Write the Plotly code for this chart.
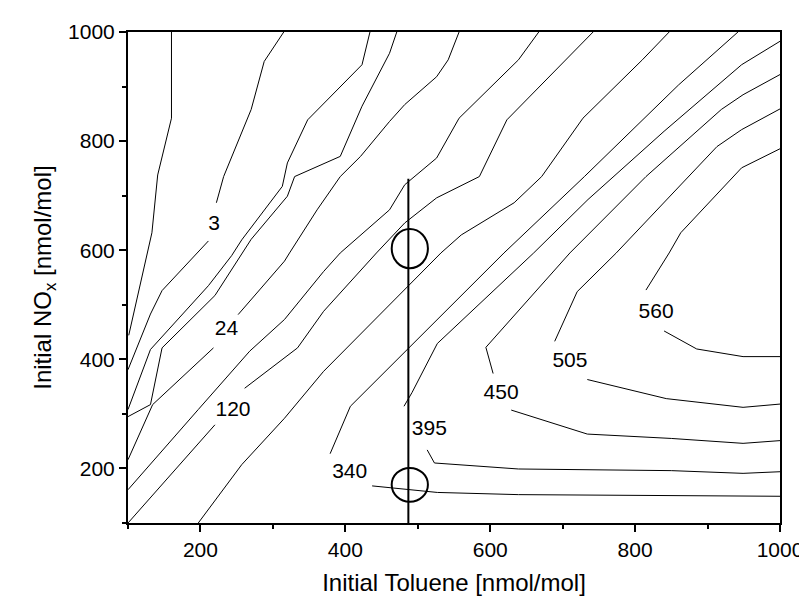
import plotly.graph_objects as go

# contour polylines (toluene x, NOx y), nmol/mol
line_a_x = [160, 160, 141, 133, 101]
line_a_y = [1000, 842, 738, 632, 444]
line_3a_x = [315, 288, 270, 232, 222]
line_3a_y = [1000, 946, 858, 735, 687]
line_3b_x = [211, 147, 131, 100]
line_3b_y = [617, 526, 483, 381]
line_c_x = [434, 423, 348, 320, 313, 257, 243, 211, 131, 100]
line_c_y = [1000, 940, 839, 760, 717, 619, 590, 535, 418, 308]
line_d_x = [471, 461, 423, 393, 330, 320, 270, 220, 147, 131, 100]
line_d_y = [1000, 961, 864, 772, 735, 699, 620, 517, 421, 317, 295]
line_24a_x = [557, 542, 526, 482, 461, 421, 393, 361, 323, 316, 252]
line_24a_y = [1000, 949, 918, 867, 836, 772, 735, 674, 595, 580, 482]
line_24b_x = [218, 134, 100]
line_24b_y = [421, 317, 216]
line_f_x = [667, 639, 557, 526, 482, 461, 393, 370, 316, 268, 197, 100]
line_f_y = [1000, 949, 842, 769, 720, 674, 595, 561, 473, 415, 308, 161]
line_120a_x = [742, 623, 585, 526, 482, 443, 370, 334, 261]
line_120a_y = [1000, 839, 735, 696, 650, 595, 488, 421, 347]
line_120b_x = [220, 100]
line_120b_y = [280, 100]
line_h_x = [847, 810, 728, 671, 633, 560, 532, 370, 316, 257, 197]
line_h_y = [1000, 949, 842, 735, 687, 628, 595, 378, 292, 207, 100]
line_340a_x = [942, 860, 730, 619, 407, 379]
line_340a_y = [1000, 903, 735, 595, 314, 227]
line_340b_x = [437, 492, 527, 639, 1000]
line_340b_y = [168, 161, 156, 152, 149]
line_395a_x = [1000, 947, 840, 735, 660, 527, 492, 481]
line_395a_y = [983, 940, 818, 693, 595, 429, 339, 314]
line_395b_x = [513, 523, 639, 850, 949, 1000]
line_395b_y = [234, 210, 199, 196, 191, 194]
line_450a_x = [1000, 949, 919, 815, 710, 594, 604]
line_450a_y = [922, 885, 858, 735, 595, 422, 374]
line_450b_x = [629, 734, 850, 949, 1000]
line_450b_y = [307, 263, 255, 246, 251]
line_505a_x = [1000, 947, 913, 774, 720, 689]
line_505a_y = [859, 821, 790, 595, 524, 433]
line_505b_x = [734, 843, 949, 1000]
line_505b_y = [363, 328, 312, 318]
line_560a_x = [1000, 947, 863, 847, 815]
line_560a_y = [786, 751, 632, 595, 527]
line_560b_x = [840, 885, 949, 1000]
line_560b_y = [452, 419, 405, 405]

label_text = ["3", "24", "120", "340", "395", "450", "505", "560"]
label_x = [219, 236, 245, 406, 516, 615, 710, 829]
label_y = [647, 454, 305, 192, 271, 337, 396, 485]

# measurement line and the two marked points
marker_x = [487, 487]
marker_y = [100, 731]
circle_x = [489, 489]
circle_y = [603, 170]
circle_rx = [25, 25]
circle_ry = [36, 31]

lines = [
    (line_a_x, line_a_y), (line_3a_x, line_3a_y), (line_3b_x, line_3b_y),
    (line_c_x, line_c_y), (line_d_x, line_d_y),
    (line_24a_x, line_24a_y), (line_24b_x, line_24b_y),
    (line_f_x, line_f_y), (line_120a_x, line_120a_y), (line_120b_x, line_120b_y),
    (line_h_x, line_h_y), (line_340a_x, line_340a_y), (line_340b_x, line_340b_y),
    (line_395a_x, line_395a_y), (line_395b_x, line_395b_y),
    (line_450a_x, line_450a_y), (line_450b_x, line_450b_y),
    (line_505a_x, line_505a_y), (line_505b_x, line_505b_y),
    (line_560a_x, line_560a_y), (line_560b_x, line_560b_y),
]

fig = go.Figure()
for xs, ys in lines:
    fig.add_trace(go.Scatter(x=xs, y=ys, mode='lines',
                             line=dict(color='black', width=1), showlegend=False))

fig.add_trace(go.Scatter(x=marker_x, y=marker_y, mode='lines',
                         line=dict(color='black', width=2), showlegend=False))

fig.add_trace(go.Scatter(x=label_x, y=label_y, mode='text', text=label_text,
                         textfont=dict(size=21, color='black'),
                         showlegend=False))

for cx, cy, rx, ry in zip(circle_x, circle_y, circle_rx, circle_ry):
    fig.add_shape(type='circle', xref='x', yref='y',
                  x0=cx - rx, x1=cx + rx, y0=cy - ry, y1=cy + ry,
                  line=dict(color='black', width=2))

axis_common = dict(range=[100, 1000], tick0=200, dtick=200,
                   ticks='outside', ticklen=7, tickwidth=1.5, tickcolor='black',
                   minor=dict(dtick=100, tick0=100, ticks='outside', ticklen=4,
                              tickwidth=1.5, tickcolor='black'),
                   showline=True, linecolor='black', linewidth=2, mirror=True,
                   showgrid=False, zeroline=False,
                   tickfont=dict(size=21, color='black'))

fig.update_layout(
    width=807, height=598,
    margin=dict(l=120, r=28, t=24, b=83),
    plot_bgcolor='white', paper_bgcolor='white',
    font=dict(family='Liberation Sans, Arial', color='black'),
    xaxis=dict(axis_common, title=dict(text='Initial Toluene [nmol/mol]',
                                       font=dict(size=24), standoff=14)),
    yaxis=dict(axis_common, title=dict(text='Initial NO<sub>x</sub> [nmol/mol]',
                                       font=dict(size=24), standoff=10)),
)

fig.write_html("out.html")
